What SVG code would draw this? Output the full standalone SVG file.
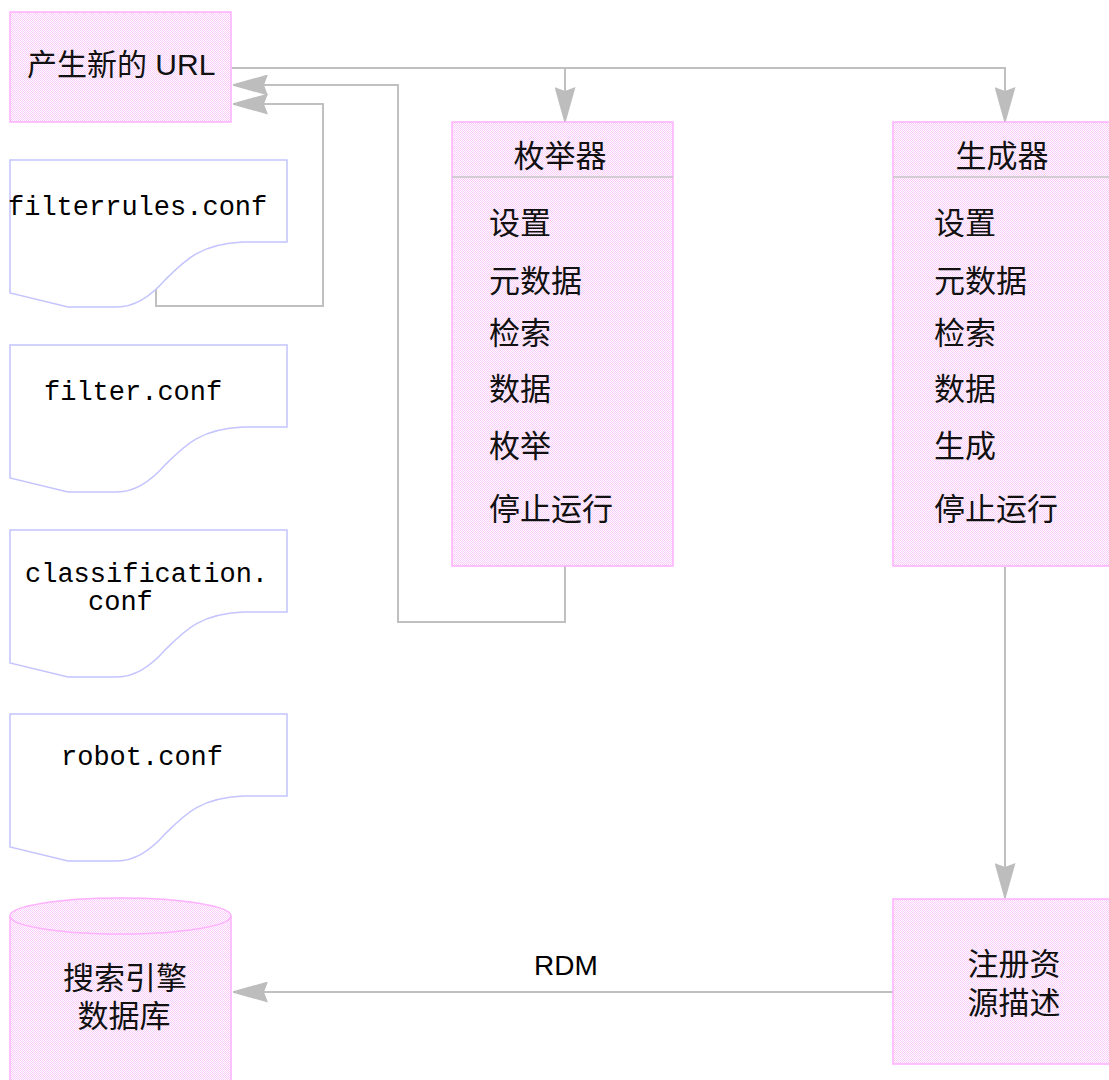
<svg xmlns="http://www.w3.org/2000/svg" width="1109" height="1080" viewBox="0 0 1109 1080">
<defs>
<pattern id="dots" patternUnits="userSpaceOnUse" x="0" y="0" width="2" height="2">
<rect width="2" height="2" fill="#ffffff"/>
<rect x="0" y="0" width="1" height="1" fill="#facbfa"/>
<rect x="1" y="1" width="1" height="1" fill="#facbfa"/>
</pattern>
<marker id="arr" markerUnits="userSpaceOnUse" viewBox="0 0 35 21" markerWidth="35" markerHeight="21" refX="35" refY="10.5" orient="auto">
<path d="M0,0 L35,9.8 L35,11.2 L0,21 L4,10.5 Z" fill="#bdbdbd"/>
</marker>
<path id="doc" d="M10,0 H287 V82 H243 C200,84 185,100 165,120 C150,137 135,147 117,147 H68 L10,133 Z"/>
</defs>
<style>
.box{fill:url(#dots);stroke:#ffb0ff;stroke-width:1.5}
.docs{fill:#ffffff;stroke:#c4c4ff;stroke-width:1.5}
.conn{fill:none;stroke:#c0c0c0;stroke-width:2}
.div{stroke:#c4c4c4;stroke-width:1.5}
.cjk{font-family:"Liberation Sans","Noto Sans CJK SC",sans-serif;font-size:31px;fill:#111111}
.mono{font-family:"Liberation Mono",monospace;font-size:27px;fill:#000000}
.lbl{font-family:"Liberation Sans",sans-serif;font-size:28px;fill:#000000}
</style>
<rect width="1109" height="1080" fill="#ffffff"/>

<g id="connectors">
<path class="conn" d="M232,68 H565 V122" marker-end="url(#arr)"/>
<path class="conn" d="M565,68 H1005 V122" marker-end="url(#arr)"/>
<path class="conn" d="M565,566 V622 H398 V85 H233" marker-end="url(#arr)"/>
<path class="conn" d="M156,289 V306 H323 V104 H233" marker-end="url(#arr)"/>
<path class="conn" d="M1005,567 V898" marker-end="url(#arr)"/>
<path class="conn" d="M893,992 H233" marker-end="url(#arr)"/>
<text class="lbl" x="534" y="975">RDM</text>
</g>

<g id="new-url">
<rect class="box" x="10" y="12" width="221" height="110"/>
<text class="cjk" x="27" y="75" style="font-size:30px">产生新的 URL</text>
</g>

<g id="doc-filterrules">
<use href="#doc" class="docs" transform="translate(0,160)"/>
<text class="mono" x="8" y="215">filterrules.conf</text>
</g>
<g id="doc-filter">
<use href="#doc" class="docs" transform="translate(0,345)"/>
<text class="mono" x="44" y="400">filter.conf</text>
</g>
<g id="doc-classification">
<use href="#doc" class="docs" transform="translate(0,530)"/>
<text class="mono" x="25" y="582">classification.</text>
<text class="mono" x="88" y="610">conf</text>
</g>
<g id="doc-robot">
<use href="#doc" class="docs" transform="translate(0,714)"/>
<text class="mono" x="61" y="765">robot.conf</text>
</g>

<g id="enumerator">
<rect class="box" x="452" y="122" width="221" height="444"/>
<line class="div" x1="452" y1="177" x2="673" y2="177"/>
<text class="cjk" x="560" y="167" text-anchor="middle">枚举器</text>
<text class="cjk" x="489" y="234">设置</text>
<text class="cjk" x="489" y="292">元数据</text>
<text class="cjk" x="489" y="344">检索</text>
<text class="cjk" x="489" y="400">数据</text>
<text class="cjk" x="489" y="457">枚举</text>
<text class="cjk" x="489" y="520">停止运行</text>
</g>

<g id="generator">
<rect class="box" x="893" y="122" width="230" height="444"/>
<line class="div" x1="893" y1="177" x2="1109" y2="177"/>
<text class="cjk" x="1002" y="167" text-anchor="middle">生成器</text>
<text class="cjk" x="934" y="234">设置</text>
<text class="cjk" x="934" y="292">元数据</text>
<text class="cjk" x="934" y="344">检索</text>
<text class="cjk" x="934" y="400">数据</text>
<text class="cjk" x="934" y="457">生成</text>
<text class="cjk" x="934" y="520">停止运行</text>
</g>

<g id="register">
<rect class="box" x="893" y="899" width="230" height="165"/>
<text class="cjk" x="1014" y="975" text-anchor="middle">注册资</text>
<text class="cjk" x="1014" y="1014" text-anchor="middle">源描述</text>
</g>

<g id="search-db">
<path class="box" d="M10,916 V1090 H231 V916"/>
<ellipse class="box" cx="120.5" cy="916" rx="110.5" ry="18"/>
<text class="cjk" x="125" y="989" text-anchor="middle">搜索引擎</text>
<text class="cjk" x="124" y="1027" text-anchor="middle">数据库</text>
</g>
</svg>
